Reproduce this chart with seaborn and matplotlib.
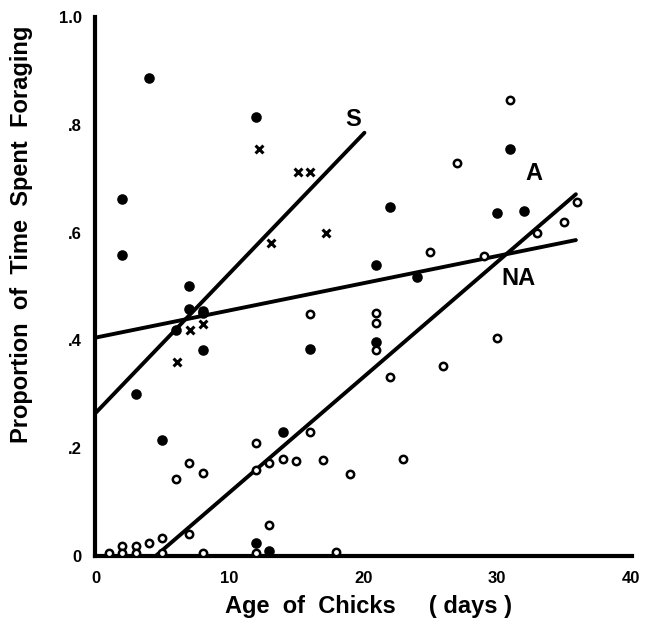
import numpy as np
import pandas as pd
import matplotlib
matplotlib.use("Agg")
import matplotlib.pyplot as plt
import seaborn as sns

# ==============================
# DATA
# ==============================

# A: filled circles
a_age = [4, 2, 12, 2, 7, 7, 8, 8, 6, 8, 16, 3, 5, 14, 12, 13,
         22, 31, 30, 32, 21, 24, 21]
a_prop = [0.887, 0.662, 0.814, 0.558, 0.50, 0.458, 0.455, 0.45, 0.42, 0.382,
          0.384, 0.30, 0.215, 0.23, 0.024, 0.010,
          0.647, 0.755, 0.636, 0.639, 0.54, 0.518, 0.397]

# NA: open circles
na_age = [31, 27, 36, 35, 33, 25, 29, 16, 21, 21, 21, 30, 26, 22,
          12, 16, 7, 6, 8, 13, 12, 14, 15, 17, 19, 23, 18, 13, 7, 5,
          1, 2, 2, 3, 3, 4, 5, 8, 12]
na_prop = [0.846, 0.729, 0.657, 0.62, 0.60, 0.564, 0.557, 0.449, 0.451, 0.432,
           0.382, 0.405, 0.352, 0.332,
           0.21, 0.23, 0.172, 0.143, 0.153, 0.173, 0.16, 0.18, 0.177, 0.178,
           0.152, 0.18, 0.007, 0.058, 0.04, 0.033,
           0.005, 0.018, 0.005, 0.018, 0.005, 0.024, 0.005, 0.005, 0.005]

# S: crosses
s_age = [12.2, 15.1, 16, 13.1, 17.2, 7.1, 8, 6.1]
s_prop = [0.755, 0.713, 0.713, 0.58, 0.60, 0.42, 0.43, 0.36]

# fitted lines: (x start, x end), (y start, y end)
s_line_x, s_line_y = [0, 20.1], [0.265, 0.785]
a_line_x, a_line_y = [0, 35.9], [0.405, 0.586]
na_line_x, na_line_y = [4.5, 35.9], [0.0, 0.671]

line_labels = ["S", "A", "NA"]
label_pos = [(18.7, 0.81), (32.1, 0.71), (30.3, 0.515)]

x_ticks = [0, 10, 20, 30, 40]
y_ticks = [0, 0.2, 0.4, 0.6, 0.8, 1.0]
y_ticklabels = ["0", ".2", ".4", ".6", ".8", "1.0"]

# ==============================
# PLOT
# ==============================

sns.set_style("white")
plt.rcParams['font.family'] = ['Liberation Sans', 'DejaVu Sans']
plt.rcParams['text.color'] = 'black'
plt.rcParams['axes.labelcolor'] = 'black'
plt.rcParams['xtick.color'] = 'black'
plt.rcParams['ytick.color'] = 'black'

fig = plt.figure(figsize=(6.45, 6.24), dpi=100)
ax = fig.add_axes([0.148, 0.109, 0.832, 0.864])

for lx, ly in [(s_line_x, s_line_y), (a_line_x, a_line_y), (na_line_x, na_line_y)]:
    sns.lineplot(x=lx, y=ly, ax=ax, color="black", linewidth=2.8, zorder=2)

sns.scatterplot(x=a_age, y=a_prop, ax=ax, marker="o", s=58, color="black",
                edgecolor="black", linewidth=0, zorder=3)
sns.scatterplot(x=na_age, y=na_prop, ax=ax, marker="o", s=28, facecolor="white",
                edgecolor="black", linewidth=1.8, zorder=3)
sns.scatterplot(x=s_age, y=s_prop, ax=ax, marker="x", s=32, color="black",
                linewidth=2.2, zorder=3)

for lab, (lx, ly) in zip(line_labels, label_pos):
    ax.text(lx, ly, lab, fontsize=17, fontweight="bold", ha="left", va="center")

ax.set_xlim(0, 40.1)
ax.set_ylim(0, 1.0)
ax.set_xticks(x_ticks)
ax.set_xticklabels([str(t) for t in x_ticks], fontsize=12, fontweight="bold")
ax.set_yticks(y_ticks)
ax.set_yticklabels(y_ticklabels, fontsize=12, fontweight="bold")

for side in ["top", "right"]:
    ax.spines[side].set_visible(False)
for side in ["left", "bottom"]:
    ax.spines[side].set_linewidth(3)
    ax.spines[side].set_color("black")

ax.tick_params(axis="x", direction="inout", length=10, width=2.5, pad=6)
ax.tick_params(axis="y", direction="out", length=7, width=2.5, pad=3)

ax.set_xlabel("Age  of  Chicks     ( days )", fontsize=17, fontweight="bold")
ax.set_ylabel("Proportion  of  Time  Spent  Foraging", fontsize=17, fontweight="bold")
ax.xaxis.set_label_coords(0.509, -0.072)
ax.yaxis.set_label_coords(-0.116, 0.597)

fig.savefig("out.png", dpi=100)
